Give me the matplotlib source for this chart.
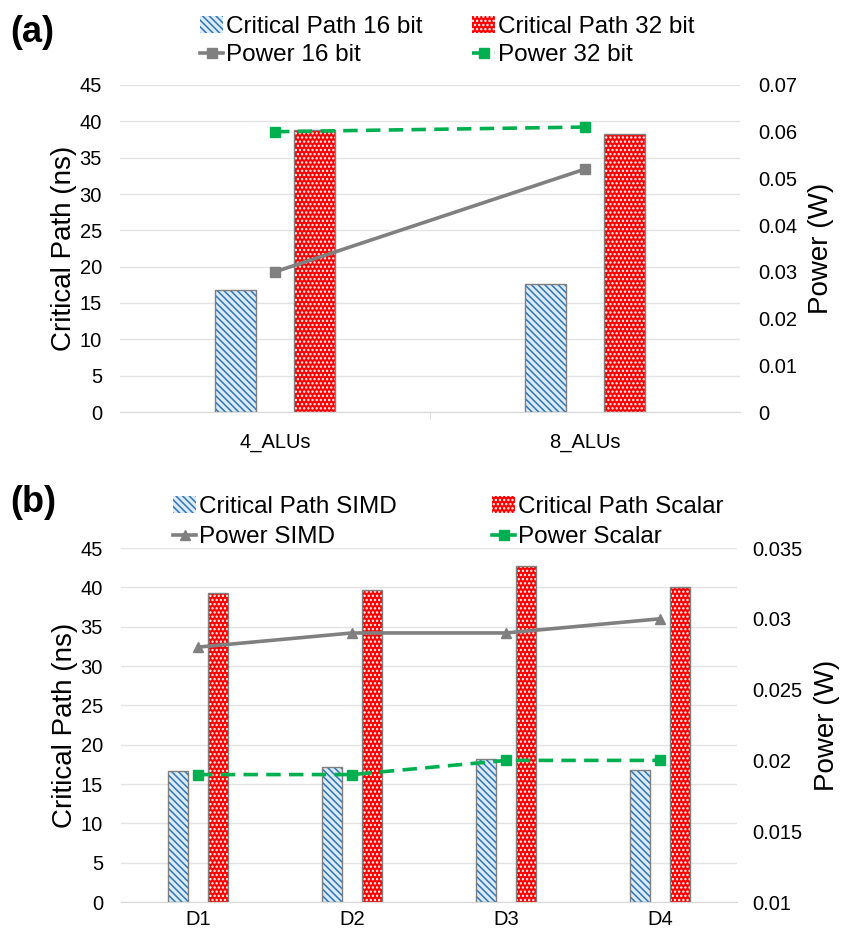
import matplotlib.pyplot as plt
import numpy as np
from matplotlib.patches import Patch
from matplotlib.lines import Line2D

plt.rcParams['font.family'] = ['Liberation Sans', 'DejaVu Sans']
plt.rcParams['hatch.linewidth'] = 1.1

# panneau (a)
cats_a = ["4_ALUs", "8_ALUs"]
cp16 = [16.8, 17.6]
cp32 = [38.8, 38.2]
pw16 = [0.030, 0.052]
pw32 = [0.060, 0.061]

# panneau (b)
cats_b = ["D1", "D2", "D3", "D4"]
cp_simd = [16.7, 17.2, 18.2, 16.8]
cp_scal = [39.3, 39.7, 42.7, 40.0]
pw_simd = [0.028, 0.029, 0.029, 0.030]
pw_scal = [0.019, 0.019, 0.020, 0.020]

GRIS = "#808080"
VERT = "#00B050"
BLEU = "#2E75B6"
FOND_BLEU = "#DDEBF7"
ROUGE = "#FF0000"
BORD = "#7F7F7F"
HB = "\\\\\\\\\\"
HR = "...."
TIRETS = (0, (4, 2.3))

W, H = 850, 934
fig = plt.figure(figsize=(W / 100, H / 100), dpi=100)


def barres(ax, x, h, w, fond, hach, coul_hach):
    ax.bar(x, h, w, color=fond, hatch=hach, edgecolor=coul_hach, linewidth=0, zorder=2)
    ax.bar(x, h, w, color="none", edgecolor=BORD, linewidth=1, zorder=3)


def entree(poignee, texte, xp, yp):
    fig.legend([poignee], [texte], loc="center left",
               bbox_to_anchor=(xp / W, 1 - yp / H), frameon=False,
               fontsize=17.5, handlelength=0.95, handletextpad=0.1,
               borderpad=0, borderaxespad=0)


def panneau(rect, cats, b1, b2, l1, l2, ylim2, yticks2, m1, m2, padr, padx, mineurs):
    ax = fig.add_axes(rect)
    x = np.arange(len(cats))
    w = 0.13
    d = 0.127
    barres(ax, x - d, b1, w, FOND_BLEU, HB, BLEU)
    barres(ax, x + d, b2, w, ROUGE, HR, "white")
    ax.set_xlim(-0.5, len(cats) - 0.5)
    ax.set_ylim(0, 45)
    ax.set_yticks(np.arange(0, 46, 5))
    ax.set_xticks(x)
    ax.set_xticklabels(cats)
    if mineurs:
        ax.set_xticks(np.arange(0.5, len(cats) - 0.5, 1), minor=True)
        ax.tick_params(axis="x", which="minor", length=5, color="#D9D9D9")
    ax.grid(axis="y", color="#E3E3E3", linewidth=1, zorder=0)
    ax.set_axisbelow(True)
    for s in ["top", "left", "right"]:
        ax.spines[s].set_visible(False)
    ax.spines["bottom"].set_color("#D9D9D9")
    ax.tick_params(which="major", length=0, labelsize=14.5)
    ax.tick_params(axis="y", pad=13)
    ax.tick_params(axis="x", pad=padx)
    ax.set_ylabel("Critical Path (ns)", fontsize=20, labelpad=2)

    ax2 = ax.twinx()
    ax2.plot(x, l1, color=GRIS, lw=2.6, marker=m1, ms=7, zorder=4)
    ax2.plot(x, l2, color=VERT, lw=2.6, ls=TIRETS, marker=m2, ms=7, zorder=4)
    ax2.set_ylim(*ylim2)
    ax2.set_yticks(yticks2)
    ax2.set_yticklabels([("%g" % t) for t in yticks2])
    for s in ["top", "left", "right", "bottom"]:
        ax2.spines[s].set_visible(False)
    ax2.tick_params(length=0, labelsize=14.5, pad=padr)
    ax2.set_ylabel("Power (W)", fontsize=20, labelpad=8)
    return ax, ax2


panneau([120 / W, 1 - 412 / H, 620 / W, 327 / H], cats_a, cp16, cp32, pw16, pw32,
        (0, 0.07), [0, 0.01, 0.02, 0.03, 0.04, 0.05, 0.06, 0.07], "s", "s", 13, 15, True)

panneau([121 / W, 1 - 902 / H, 616 / W, 354 / H], cats_b, cp_simd, cp_scal, pw_simd, pw_scal,
        (0.01, 0.035), [0.01, 0.015, 0.02, 0.025, 0.03, 0.035], "^", "s", 11, 6, False)

p_bleu = Patch(facecolor=FOND_BLEU, edgecolor=BLEU, hatch=HB, linewidth=0)
p_rouge = Patch(facecolor=ROUGE, edgecolor="white", hatch=HR, linewidth=0)
l_gris_c = Line2D([], [], color=GRIS, lw=2.6, marker="s", ms=7)
l_gris_t = Line2D([], [], color=GRIS, lw=2.6, marker="^", ms=7)
l_vert = Line2D([], [], color=VERT, lw=2.6, ls=TIRETS, marker="s", ms=7)
l_vert_b = Line2D([], [], color=VERT, lw=2.6, marker="s", ms=7)

entree(p_bleu, "Critical Path 16 bit", 200, 27)
entree(p_rouge, "Critical Path 32 bit", 472, 27)
entree(l_gris_c, "Power 16 bit", 200, 55)
entree(l_vert, "Power 32 bit", 472, 55)

entree(p_bleu, "Critical Path SIMD", 173, 507)
entree(p_rouge, "Critical Path Scalar", 492, 507)
entree(l_gris_t, "Power SIMD", 173, 537)
entree(l_vert_b, "Power Scalar", 492, 537)

fig.text(10 / W, 1 - 32 / H, "(a)", fontsize=26, fontweight="bold", va="center")
fig.text(10 / W, 1 - 502 / H, "(b)", fontsize=26, fontweight="bold", va="center")

plt.savefig("out.png", dpi=100)
